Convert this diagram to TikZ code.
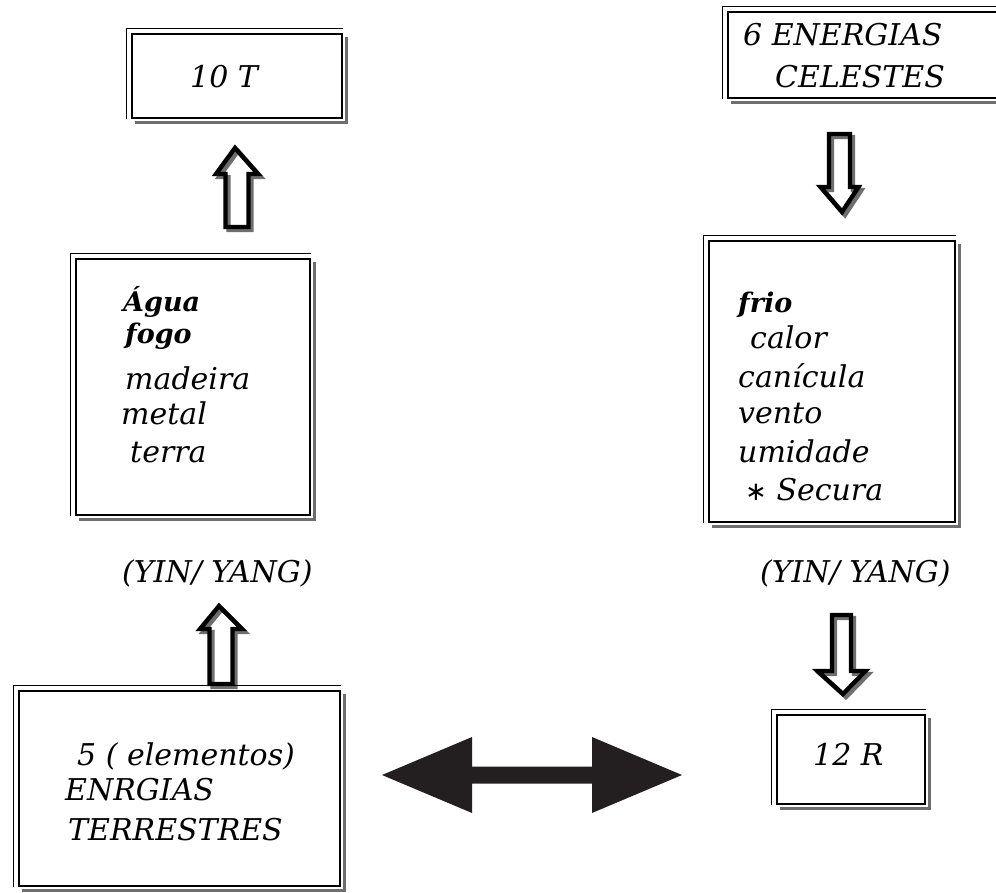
\documentclass[tikz,border=0pt]{standalone}
\usepackage{fontspec}
\setmainfont{DejaVu Serif}
\newfontfamily\symfont{DejaVu Sans}
\usetikzlibrary{calc}
\pgfdeclarelayer{back}
\pgfdeclarelayer{bg}
\pgfsetlayers{back,bg,main}
\definecolor{arrowdark}{HTML}{231F20}
\definecolor{shadowc}{HTML}{6E6E6E}
\newcommand\hollowpath[6]{%
  \draw[#1] let \p1=(#2), \p2=(#3), \n1={sign(\y2-\y1)} in
    (\x1-#4pt,\y1) -- (\x1-#4pt,\y2-\n1*#6pt) -- (\x1-#5pt,\y2-\n1*#6pt) -- (\x2,\y2)
    -- (\x1+#5pt,\y2-\n1*#6pt) -- (\x1+#4pt,\y2-\n1*#6pt) -- (\x1+#4pt,\y1) -- cycle;}
\newcommand\blockarrow[5]{%
  \begin{pgfonlayer}{bg}\hollowpath{harrowsh}{#1}{#2}{#3}{#4}{#5}\end{pgfonlayer}%
  \hollowpath{harrow}{#1}{#2}{#3}{#4}{#5}}
\begin{document}
\begin{tikzpicture}[x=1pt,y=-1pt,
  fbox/.style={draw, line width=2.2pt, inner sep=0pt},
  thinline/.style={line width=1.1pt},
  shadowline/.style={draw=shadowc, line width=2.8pt},
  txt/.style={anchor=base west, inner sep=0pt, font=\fontsize{30}{36}\selectfont\itshape},
  btxt/.style={anchor=base west, inner sep=0pt, font=\fontsize{27}{36}\selectfont\bfseries\itshape},
  harrow/.style={line width=4.4pt, line join=miter},
  harrowsh/.style={draw=shadowc, line width=4.4pt, line join=miter, transform canvas={shift={(3pt,-3pt)}}},
]
\begin{pgfonlayer}{back}
\fill[white] (0,0) rectangle (996,892);
\end{pgfonlayer}
\useasboundingbox (0,0) rectangle (996,892);

% boxes
\node[fbox, minimum width=210pt, minimum height=84pt] (t10) at (237,76) {};
\node[fbox, minimum width=272pt, minimum height=86pt] (e6) at (864,55) {};
\node[fbox, minimum width=234pt, minimum height=256pt] (el) at (193,387) {};
\node[fbox, minimum width=246pt, minimum height=281pt] (fr) at (832,381.5) {};
\node[fbox, minimum width=321pt, minimum height=195pt] (et) at (179.5,788.5) {};
\node[fbox, minimum width=148pt, minimum height=89pt] (r12) at (851,759.5) {};

\foreach \n in {t10,e6,el,fr,et,r12}{
  \draw[thinline] ([shift={(-4,0)}]\n.south west) -- ([shift={(-4,-4)}]\n.north west) -- ([shift={(0,-4)}]\n.north east);
  \begin{pgfonlayer}{bg}
  \draw[shadowline] ([shift={(3.5,4)}]\n.north east) -- ([shift={(3.5,3.5)}]\n.south east) -- ([shift={(4,3.5)}]\n.south west);
  \end{pgfonlayer}
}

% texts
\node[txt] (t10a) at (190,87) {10 T};
\node[txt] (e6a) at (743,45) {6 ENERGIAS};
\node[txt] (e6b) at (775,87) {CELESTES};

\node[btxt] (ela) at (123,311) {Água};
\node[btxt] (elb) at (125,343) {fogo};
\node[txt] (elc) at (125,389) {madeira};
\node[txt] (eld) at (121,424) {metal};
\node[txt] (ele) at (130,462) {terra};

\node[btxt] (fra) at (738,312) {frio};
\node[txt] (frb) at (750,348) {calor};
\node[txt] (frc) at (738,387) {canícula};
\node[txt] (frd) at (738,423) {vento};
\node[txt] (fre) at (738,462) {umidade};
\node[txt] (frf) at (745,500) {{\symfont\upshape\fontsize{26}{36}\selectfont ∗} Secura};

\node[txt] (yl) at (122,582) {(YIN/ YANG)};
\node[txt] (yr) at (760,582) {(YIN/ YANG)};

\node[txt] (eta) at (77,765) {5 ( elementos)};
\node[txt] (etb) at (65,800) {ENRGIAS};
\node[txt] (etc) at (68,840) {TERRESTRES};

\node[txt] (r12a) at (813,765) {12 R};

% hollow arrows
\coordinate (a1s) at (237,227); \coordinate (a1e) at (235,148);
\coordinate (a2s) at (839.5,134); \coordinate (a2e) at (842,212);
\coordinate (a3s) at (221,684); \coordinate (a3e) at (219,606);
\coordinate (a4s) at (841.5,615); \coordinate (a4e) at (843,694);
\blockarrow{a1s}{a1e}{11.5}{21}{26}
\blockarrow{a2s}{a2e}{10.5}{19}{25}
\blockarrow{a3s}{a3e}{11.5}{21}{23}
\blockarrow{a4s}{a4e}{9.5}{24}{23}

% double arrow
\coordinate (dl) at (382,775); \coordinate (dr) at (682,775);
\fill[arrowdark] let \p1=(dl), \p2=(dr) in
  (\x1,\y1) -- (\x1+90pt,\y1+38pt) -- (\x1+90pt,\y1+8.5pt) -- (\x2-90pt,\y2+8.5pt)
  -- (\x2-90pt,\y2+38pt) -- (\x2,\y2) -- (\x2-90pt,\y2-38pt) -- (\x2-90pt,\y2-8.5pt)
  -- (\x1+90pt,\y1-8.5pt) -- (\x1+90pt,\y1-38pt) -- cycle;
\end{tikzpicture}
\end{document}
